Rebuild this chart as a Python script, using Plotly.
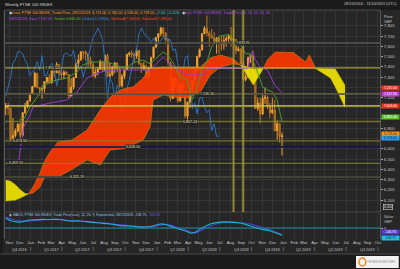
import numpy as np
import pandas as pd
import plotly.graph_objects as go

# ---------------- data ----------------
weeks = pd.date_range('2016-10-21', '2018-12-28', freq='W-FRI')

open_ = [7000, 7020, 6996, 6693, 6730, 6775, 6840, 6731, 6954, 7011, 7068,
         7142, 7210, 7338, 7198, 7184, 7188, 7258, 7299, 7243, 7374, 7343, 7425, 7336, 7323, 7349, 7327, 7115,
         7204, 7297, 7435, 7470, 7548, 7547, 7527, 7464, 7424, 7313, 7350, 7378, 7453, 7368, 7511, 7310, 7324,
         7401, 7438, 7378, 7215, 7310, 7373, 7522, 7535, 7523, 7505, 7560, 7433, 7380, 7409, 7300, 7394, 7490, 7593,
         7688, 7724, 7779, 7730, 7666, 7443, 7092, 7294, 7244, 7070, 7224, 7164, 6922, 7057, 7184, 7265, 7368,
         7502, 7567, 7725, 7779, 7731, 7701, 7681, 7634, 7682, 7637, 7618, 7661, 7678, 7701, 7659, 7667, 7559,
         7577, 7432, 7277, 7304, 7490, 7510, 7318, 6995, 7049, 6940, 7094, 7105, 7014, 6953, 6980, 6778, 6845, 6721]
high = [7050, 7050, 7000, 6900, 6800, 6850, 6860, 6960, 7050, 7070, 7140,
        7210, 7354, 7340, 7200, 7200, 7260, 7300, 7330, 7380, 7380, 7447, 7430, 7380, 7370, 7360, 7330, 7290,
        7300, 7440, 7520, 7550, 7555, 7560, 7530, 7500, 7450, 7380, 7400, 7470, 7460, 7520, 7530, 7440, 7410,
        7450, 7440, 7390, 7330, 7380, 7530, 7550, 7560, 7540, 7580, 7565, 7440, 7450, 7420, 7400, 7500, 7600, 7690,
        7730, 7792, 7790, 7740, 7680, 7450, 7300, 7300, 7290, 7240, 7260, 7170, 7060, 7200, 7270, 7380, 7510,
        7580, 7730, 7800, 7903, 7750, 7770, 7740, 7690, 7700, 7700, 7700, 7700, 7720, 7790, 7780, 7670, 7600,
        7580, 7460, 7330, 7500, 7530, 7560, 7340, 7100, 7100, 7140, 7200, 7120, 7050, 7100, 7080, 6880, 6850, 6760]
low = [6930, 6930, 6676, 6690, 6710, 6760, 6700, 6720, 6940, 7000, 7060,
       7140, 7200, 7190, 7120, 7090, 7150, 7230, 7230, 7240, 7300, 7340, 7310, 7280, 7280, 7320, 7090, 7110,
       7180, 7290, 7400, 7460, 7480, 7460, 7400, 7400, 7300, 7290, 7320, 7370, 7360, 7360, 7300, 7300, 7310,
       7340, 7350, 7200, 7200, 7280, 7370, 7500, 7490, 7440, 7480, 7420, 7340, 7370, 7280, 7280, 7380, 7480, 7590,
       7640, 7700, 7690, 7620, 7420, 7062, 7090, 7200, 7050, 7060, 7120, 6900, 6867, 7000, 7150, 7220, 7360,
       7490, 7560, 7720, 7700, 7600, 7680, 7620, 7530, 7530, 7560, 7570, 7600, 7640, 7600, 7630, 7520, 7550,
       7430, 7270, 7260, 7290, 7440, 7300, 6990, 6970, 6850, 6930, 7040, 6990, 6900, 6940, 6770, 6690, 6660, 6536]
close = [7020, 6996, 6693, 6730, 6775, 6840, 6731, 6954, 7011, 7068, 7142,
         7210, 7338, 7198, 7184, 7188, 7258, 7299, 7243, 7374, 7343, 7425, 7336, 7323, 7349, 7327, 7115, 7204,
         7297, 7435, 7470, 7548, 7547, 7527, 7464, 7424, 7313, 7350, 7378, 7453, 7368, 7511, 7310, 7324, 7401,
         7438, 7378, 7215, 7310, 7373, 7522, 7535, 7523, 7505, 7560, 7433, 7380, 7409, 7300, 7394, 7490, 7593, 7688,
         7724, 7779, 7730, 7666, 7443, 7092, 7294, 7244, 7070, 7224, 7164, 6922, 7057, 7184, 7265, 7368, 7502,
         7567, 7725, 7779, 7731, 7701, 7681, 7634, 7682, 7637, 7618, 7661, 7678, 7701, 7659, 7667, 7559, 7577,
         7432, 7277, 7304, 7490, 7510, 7318, 6995, 7049, 6940, 7094, 7105, 7014, 6953, 6980, 6778, 6845, 6721, 6728]

tenkan_dates = ['2016-11-30', '2016-12-15', '2016-12-30', '2017-01-20', '2017-02-06', '2017-02-26', '2017-03-18',
                '2017-04-16', '2017-05-15', '2017-06-01', '2017-06-22', '2017-07-21', '2017-08-19', '2017-09-17',
                '2017-10-07', '2017-10-24', '2017-11-22', '2017-12-12', '2017-12-31', '2018-01-19', '2018-01-31',
                '2018-02-17', '2018-03-09', '2018-03-29', '2018-04-13', '2018-04-27', '2018-05-11', '2018-05-25',
                '2018-06-08', '2018-06-29', '2018-07-27', '2018-08-10', '2018-08-31', '2018-09-14', '2018-09-28',
                '2018-10-19', '2018-11-02', '2018-11-16', '2018-11-30', '2018-12-14', '2018-12-28']
tenkan = [6882, 6905, 7009, 7107, 7224, 7253, 7273, 7292, 7351, 7419, 7448, 7448, 7439, 7400, 7400, 7439, 7468,
          7430, 7488, 7546, 7517, 7440, 7300, 7270, 7085, 7190, 7385, 7450, 7600, 7700, 7717, 7660, 7610, 7530,
          7525, 7345, 7204, 7175, 7155, 7077, 6865.40]

kijun_dates = ['2016-11-27', '2016-12-03', '2016-12-12', '2016-12-30', '2017-01-08', '2017-02-26', '2017-04-16',
               '2017-05-15', '2017-06-13', '2017-07-12', '2017-08-19', '2017-12-12', '2018-01-09', '2018-01-19',
               '2018-02-09', '2018-03-23', '2018-05-18', '2018-05-25', '2018-09-21', '2018-09-28', '2018-10-05',
               '2018-10-12', '2018-10-26', '2018-11-16', '2018-11-23', '2018-12-07', '2018-12-28']
kijun = [6462, 6618, 6814, 6931, 7009, 7048, 7077, 7155, 7292, 7341, 7370, 7370, 7468, 7497, 7427, 7330, 7330,
         7385, 7385, 7527, 7546, 7468, 7400, 7370, 7320, 7224, 7147.50]

cloud_dates = ['2016-10-21', '2016-11-04', '2016-11-18', '2016-12-02', '2016-12-16', '2016-12-25', '2017-01-08',
               '2017-01-28', '2017-02-10', '2017-02-26', '2017-03-21', '2017-05-01', '2017-06-13', '2017-07-21',
               '2017-08-19', '2017-09-17', '2017-10-07', '2017-10-24', '2017-11-22', '2017-12-12', '2017-12-21',
               '2018-01-19', '2018-02-17', '2018-03-29', '2018-05-06', '2018-06-04', '2018-07-03', '2018-08-09',
               '2018-08-30', '2018-09-07', '2018-10-06', '2018-10-20', '2018-11-04', '2018-11-16', '2018-12-09',
               '2019-01-01', '2019-01-30', '2019-03-06', '2019-03-17', '2019-04-04', '2019-05-17', '2019-05-31',
               '2019-06-14', '2019-06-28']
senkou_a = [6090, 6095, 6100, 6120, 6145, 6160, 6228, 6364, 6480, 6570, 6667, 6687, 6784, 6980, 7107, 7175, 7195,
            7204, 7292, 7380, 7390, 7400, 7400, 7400, 7400, 7488, 7517, 7480, 7420, 7380, 7224, 7300, 7385, 7470,
            7546, 7546, 7540, 7448, 7517, 7385, 7292, 7204, 7100, 7006]
senkou_b = [6296, 6285, 6250, 6200, 6165, 6160, 6169, 6228, 6325, 6325, 6325, 6400, 6491, 6443, 6589, 6600, 6609,
            6640, 6687, 6814, 7077, 7126, 7107, 7097, 7155, 7321, 7400, 7430, 7420, 7410, 7380, 7385, 7385, 7385,
            7385, 7385, 7385, 7385, 7385, 7385, 7385, 7380, 7300, 7220]

levels = [7633.91, 7391.52, 7136.56, 7019.50, 6867.24, 6678.56, 6618.50, 6459.10, 6325.19]
level_label_dates = ['2018-09-07', '2017-03-05', '2018-05-25', None, '2018-04-05', '2016-11-30', '2017-10-24',
                     '2016-11-20', '2017-05-15']
marker_dates = ['2018-08-10', '2018-09-07']

macd_dates = ['2016-10-21', '2016-11-07', '2016-12-02', '2016-12-30', '2017-01-28', '2017-02-26', '2017-03-26',
              '2017-04-24', '2017-05-24', '2017-06-22', '2017-07-21', '2017-08-19', '2017-09-17', '2017-10-16',
              '2017-11-14', '2017-12-14', '2018-01-12', '2018-01-26', '2018-02-23', '2018-03-25', '2018-04-08',
              '2018-04-23', '2018-05-06', '2018-06-04', '2018-07-03', '2018-08-01', '2018-08-30', '2018-09-28',
              '2018-10-27', '2018-11-25', '2018-12-28']
macd = [154, 108, 92, 123, 131, 131, 131, 108, 108, 92, 77, 62, 38, 31, 15, 23, 62, 54, 0, -46, -77, -62, -15,
        62, 92, 92, 77, 31, -15, -46, -108.75]
signal = [170, 139, 108, 108, 123, 131, 131, 115, 108, 95, 82, 68, 48, 36, 22, 20, 46, 55, 20, -31, -62, -77, -46,
          31, 77, 92, 85, 62, 15, -31, -106.93]
macd_ref = 0

price_ticks = list(range(6100, 7900, 100))
hidden_price_ticks = [7200, 7000, 6900, 6700]   # covered by value boxes in the reference
month_ticks = pd.date_range('2016-11-01', '2019-10-01', freq='MS')
quarter_marks = pd.date_range('2016-12-01', '2019-09-01', freq='3MS')

# ---------------- style ----------------
FONT = 'Liberation Sans, Arial, sans-serif'
BG = '#262626'
GRID = '#353535'
RED = 'rgba(255,55,0,0.9)'
YEL = 'rgba(240,228,0,0.92)'
MAIN_BOTTOM = 0.118
MACD_TOP = 0.1135

level_styles = [
    [('#15154a', 2.5), ('#9c9838', 1)],
    [('#c0b840', 1.3)],
    [('#15154a', 2), ('#b0a83c', 1)],
    [('#d0c84a', 1.8)],
    [('#85832f', 1.3)],
    [('#85832f', 1.3)],
    [('#15154a', 2.2)],
    [('#85832f', 1.3)],
    [('#15154a', 2), ('#85832f', 1)],
]

fig = go.Figure()

# chikou (close shifted back 26 weeks)
fig.add_trace(go.Scatter(x=weeks[:-26], y=close[26:], mode='lines', yaxis='y',
                         line=dict(color='#2d6fb8', width=1), hoverinfo='skip'))

# cloud
A = np.array(senkou_a, dtype=float)
B = np.array(senkou_b, dtype=float)
D = pd.to_datetime(cloud_dates)
cuts = [0] + [i for i in range(1, len(A) - 1) if A[i] == B[i]] + [len(A) - 1]
for s, e in zip(cuts[:-1], cuts[1:]):
    seg = slice(s, e + 1)
    bull = (A[seg] - B[seg]).sum() > 0
    fc = RED if bull else YEL
    edge = '#c88a10' if bull else '#d0c000'
    fig.add_trace(go.Scatter(x=D[seg], y=B[seg], mode='lines', yaxis='y',
                             line=dict(color=edge, width=0.6), hoverinfo='skip'))
    fig.add_trace(go.Scatter(x=D[seg], y=A[seg], mode='lines', yaxis='y', fill='tonexty', fillcolor=fc,
                             line=dict(color=edge, width=0.6), hoverinfo='skip'))

fig.add_trace(go.Scatter(x=pd.to_datetime(kijun_dates), y=kijun, mode='lines', yaxis='y',
                         line=dict(color='#9a36d0', width=1), hoverinfo='skip'))
fig.add_trace(go.Scatter(x=pd.to_datetime(tenkan_dates), y=tenkan, mode='lines', yaxis='y',
                         line=dict(color='#4f9a2c', width=1), hoverinfo='skip'))

fig.add_trace(go.Candlestick(x=weeks, open=open_, high=high, low=low, close=close, yaxis='y',
                             increasing=dict(line=dict(color='#f0a030', width=1), fillcolor='#f0a030'),
                             decreasing=dict(line=dict(color='#c07a22', width=1), fillcolor='#6e4512'),
                             whiskerwidth=0, hoverinfo='skip'))

# MACD
fig.add_trace(go.Scatter(x=pd.to_datetime(macd_dates), y=signal, mode='lines', yaxis='y2',
                         line=dict(color='#4a3ad8', width=1.2, shape='spline'), hoverinfo='skip'))
fig.add_trace(go.Scatter(x=pd.to_datetime(macd_dates), y=macd, mode='lines', yaxis='y2',
                         line=dict(color='#1cb4c8', width=1.2, shape='spline'), hoverinfo='skip'))

shapes = []
# frames
shapes.append(dict(type='rect', xref='paper', yref='paper', x0=-0.02, x1=1.06, y0=1.0, y1=1.06,
                   fillcolor='#1b1b1b', line=dict(width=0), layer='below'))
shapes.append(dict(type='rect', xref='paper', yref='paper', x0=-0.02, x1=-0.0055, y0=-0.2, y1=1.06,
                   fillcolor='#1b1b1b', line=dict(width=0), layer='below'))
shapes.append(dict(type='rect', xref='paper', yref='paper', x0=-0.02, x1=1.06, y0=-0.2, y1=-0.0655,
                   fillcolor='#1b1b1b', line=dict(color='#4a4a4a', width=1), layer='below'))
shapes.append(dict(type='line', xref='paper', yref='paper', x0=0, x1=1, y0=MAIN_BOTTOM, y1=MAIN_BOTTOM,
                   line=dict(color='#4a4a4a', width=1)))
shapes.append(dict(type='line', xref='paper', yref='paper', x0=0, x1=1, y0=1, y1=1,
                   line=dict(color='#4a4a4a', width=1)))

for v, st in zip(levels, level_styles):
    for col, w in st:
        shapes.append(dict(type='line', xref='paper', x0=0, x1=1, yref='y', y0=v, y1=v,
                           line=dict(color=col, width=w), layer='above', opacity=0.8))
for d in marker_dates:
    shapes.append(dict(type='line', xref='x', x0=d, x1=d, yref='paper', y0=MAIN_BOTTOM, y1=1,
                       line=dict(color='#aaa235', width=2), layer='above', opacity=0.8))
shapes.append(dict(type='line', xref='paper', x0=0, x1=1, yref='y2', y0=macd_ref, y1=macd_ref,
                   line=dict(color='#1f8ea6', width=1)))
# logo box
shapes.append(dict(type='rect', xref='paper', yref='paper', x0=0.936, x1=1.05, y0=-0.1266, y1=-0.074,
                   fillcolor='#f2f2f2', line=dict(width=0)))
shapes.append(dict(type='circle', xref='paper', yref='paper', x0=0.944, x1=0.962, y0=-0.118, y1=-0.083,
                   fillcolor='rgba(0,0,0,0)', line=dict(color='#f08a2a', width=1.5)))

ann = []
def A_(**k):
    d = dict(showarrow=False, font=dict(family=FONT, size=4, color='#d0d0d0'))
    d.update(k)
    ann.append(d)

A_(text='Weekly FTSE 100 INDEX', xref='paper', yref='paper', x=-0.005, y=1.025, xanchor='left', yanchor='middle',
   font=dict(family=FONT, size=4.2, color='#d8d8d8'))
A_(text='28/10/2016 - 11/10/2019 (UTC)', xref='paper', yref='paper', x=1.05, y=1.025, xanchor='right',
   yanchor='middle', font=dict(family=FONT, size=3.8, color='#c8c8c8'))

chg = close[-1] - close[-2]
pct = chg / close[-2] * 100
now_i = int(np.argmin(np.abs((D - weeks[-1]).days)))
row1 = (f'<span style="color:#dddddd">◉</span> <span style="color:#ff9f1c">Last, FTSE 100 INDEX, Trade Price, '
        f'28/12/2018, {open_[-1]:,.2f}, {high[-1]:,.2f}, {low[-1]:,.2f}, {close[-1]:,.2f}, </span>'
        f'<span style="color:#3cc8c8">{chg:+,.2f}, {pct:+.2f}%</span>  '
        f'<span style="color:#dddddd">◉</span> <span style="color:#b44ce0">Ichi, FTSE 100 INDEX, Trade Price, '
        f'9, 26, 52, 26, 26,</span>')
row2 = (f'<span style="color:#b44ce0">28/12/2018, Kijun {kijun[-1]:,.2f}, </span>'
        f'<span style="color:#5fbf2c">Tenkan {tenkan[-1]:,.2f}, </span>'
        f'<span style="color:#3a8ee8">Chikou {close[-1]:,.2f}, </span>'
        f'<span style="color:#ff4020">SenkouA {senkou_a[now_i]:,.2f}, </span>'
        f'<span style="color:#ff4020">SenkouB {senkou_b[now_i]:,.2f}</span>')
A_(text=row1, xref='paper', yref='paper', x=0.005, y=0.987, xanchor='left', yanchor='middle',
   font=dict(family=FONT, size=3.6, color='#dddddd'))
A_(text=row2, xref='paper', yref='paper', x=0.005, y=0.961, xanchor='left', yanchor='middle',
   font=dict(family=FONT, size=3.6, color='#dddddd'))

A_(text='Price<br>GBP', xref='paper', yref='paper', x=1, xshift=2, y=0.958, xanchor='left', yanchor='middle',
   align='left', font=dict(family=FONT, size=3.8, color='#c8c8c8'))
A_(text='Value<br>GBP', xref='paper', yref='paper', x=1, xshift=2, y=0.083, xanchor='left', yanchor='middle',
   align='left', font=dict(family=FONT, size=3.8, color='#c8c8c8'))

macd_hdr = (f'<span style="color:#dddddd">◉</span> <span style="color:#9cc8e8">MACD, FTSE 100 INDEX, Trade Price(Last), '
            f'12, 26, 9, Exponential, 28/12/2018, {macd[-1]:,.2f}, </span>'
            f'<span style="color:#6a5cf0">{signal[-1]:,.2f}</span>')
A_(text=macd_hdr, xref='paper', yref='paper', x=0.005, y=0.105, xanchor='left', yanchor='middle',
   font=dict(family=FONT, size=3.4, color='#dddddd'))

# level labels
for v, d in zip(levels, level_label_dates):
    if d is None:
        continue
    A_(text=f'{v:,.2f}', x=d, y=v, xref='x', yref='y', xanchor='center', yanchor='middle',
       bgcolor='rgba(30,30,30,0.85)', borderpad=0, font=dict(family=FONT, size=3.6, color='#e6e6b8'))

# right-side value boxes
def box(val, yref, color, fcol='#ffffff', ys=0):
    A_(text=f'{val:,.2f}', x=1, xref='paper', xshift=1, y=val, yref=yref, yshift=ys, xanchor='left',
       yanchor='middle', bgcolor=color, borderpad=0, width=17, height=4.4,
       font=dict(family=FONT, size=3.3, color=fcol))

box(senkou_b[-1], 'y', '#e8341c', '#ffffff', -3)
box(kijun[-1], 'y', '#c23ad6', '#ffffff', -1)
box(senkou_a[-1], 'y', '#e8341c', '#ffffff', 1)
box(tenkan[-1], 'y', '#5cc22a', '#ffffff', 4.5)
box(close[-1], 'y', '#ff9a14', '#202020', 2.2)
box(close[-1], 'y', '#2a9ef0', '#202020', -2.6)
A_(text='6,000', x=1, xref='paper', xshift=3, y=6030, yref='y', xanchor='left', yanchor='middle',
   bordercolor='#d0d0d0', borderwidth=0.6, borderpad=0.3, font=dict(family=FONT, size=3.4, color='#e0e0e0'))
box(signal[-1], 'y2', '#5a3ad8', '#ffffff', 2.6)
box(macd[-1], 'y2', '#22b8ea', '#202020', -2.6)

# quarter labels
for q in quarter_marks:
    A_(text=f'Q{(q.month - 1) // 3 + 1} {q.year}', x=q, xref='x', yref='paper', y=-0.05, xanchor='center',
       yanchor='middle', font=dict(family=FONT, size=3.8, color='#c8c8c8'))

A_(text='THOMSON REUTERS', xref='paper', yref='paper', x=1.005, y=-0.1, xanchor='center', yanchor='middle',
   font=dict(family=FONT, size=2.8, color='#8a8a8a'))

month_text = [(m.strftime('%b') + ('<br>|' if m.month in (1, 4, 7, 10) else '')) for m in month_ticks]
price_text = ['' if p in hidden_price_ticks else f'{p:,}' for p in price_ticks]

fig.update_layout(
    width=400, height=269, margin=dict(l=5, r=20, t=10, b=30),
    paper_bgcolor=BG, plot_bgcolor=BG, showlegend=False,
    font=dict(family=FONT, size=4, color='#c8c8c8'),
    xaxis=dict(type='date', anchor='y2', range=['2016-10-19', '2019-10-07'], domain=[0, 1],
               tickvals=month_ticks, ticktext=month_text, tickangle=0, tickfont=dict(size=4.2, color='#c8c8c8'),
               showgrid=True, gridcolor=GRID, gridwidth=1, ticks='', zeroline=False,
               rangeslider=dict(visible=False), showline=False),
    yaxis=dict(domain=[MAIN_BOTTOM, 1], range=[5984, 7956], side='right', tickvals=price_ticks,
               ticktext=price_text, tickfont=dict(size=4.3, color='#c8c8c8'), ticks='outside', ticklen=2,
               tickcolor='#aaaaaa', showgrid=True, gridcolor=GRID, zeroline=False,
               showline=True, linecolor='#5a5a5a', mirror=True),
    yaxis2=dict(domain=[0, MACD_TOP], range=[-169, 231], side='right', tickvals=[0], ticktext=['0'],
                tickfont=dict(size=4.3, color='#c8c8c8'), ticks='outside', ticklen=2, tickcolor='#aaaaaa',
                showgrid=True, gridcolor=GRID, dtick=100, zeroline=False,
                showline=True, linecolor='#5a5a5a', mirror=True),
    shapes=shapes, annotations=ann,
)

fig.write_html('out.html')
